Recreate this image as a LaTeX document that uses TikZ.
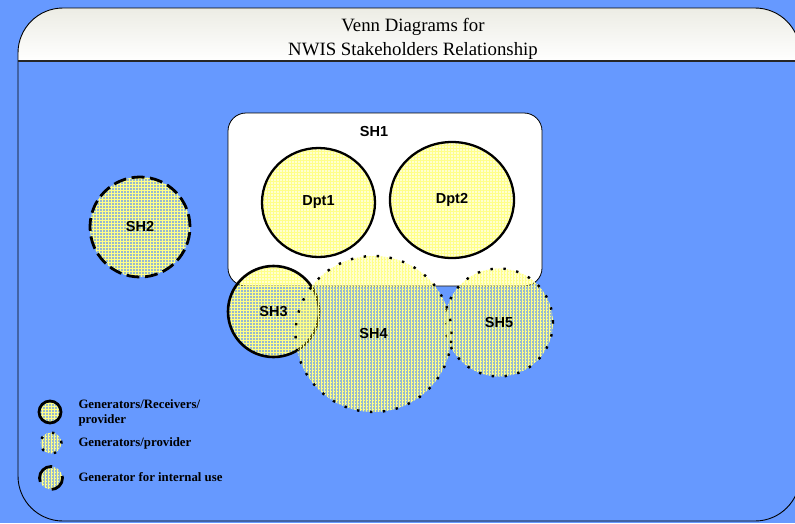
\documentclass[tikz,border=0pt]{standalone}
\usepackage{fontspec}
\setmainfont{Liberation Serif}
\newfontfamily\labelfont{Liberation Sans}
\usepackage{tikz}
\usetikzlibrary{shapes.geometric,patterns}

\definecolor{bgblue}{RGB}{102,153,255}
\definecolor{vennyellow}{RGB}{255,255,110}
\definecolor{gridyellow}{RGB}{255,255,150}
\definecolor{bandtop}{RGB}{236,236,228}

\pgfdeclarepatternformonly{venngrid}{\pgfqpoint{-1pt}{-1pt}}{\pgfqpoint{4pt}{4pt}}{\pgfqpoint{3pt}{3pt}}{
\pgfsetlinewidth{0.6pt}
\pgfpathmoveto{\pgfqpoint{0pt}{0pt}}\pgfpathlineto{\pgfqpoint{3.1pt}{0pt}}
\pgfpathmoveto{\pgfqpoint{0pt}{0pt}}\pgfpathlineto{\pgfqpoint{0pt}{3.1pt}}
\pgfusepath{stroke}}

\begin{document}
\begin{tikzpicture}[x=1pt,y=-1pt]
\tikzset{venn/.style = {shape=circle,draw,inner sep=0pt,fill=vennyellow,
fill opacity=0.32,text opacity=1,font=\labelfont\bfseries\fontsize{14.5}{16}\selectfont,
preaction={pattern=venngrid,pattern color=gridyellow,fill opacity=1}}}
\tikzset{dept/.style = {venn,shape=ellipse,line width=2.3pt}}
\tikzset{solidline/.style = {line width=2.6pt}}
\tikzset{dotline/.style = {line width=2.4pt,dash pattern=on 2.4pt off 10.6pt}}
\tikzset{dashline/.style = {line width=2.8pt,dash pattern=on 13pt off 5.5pt}}
\tikzset{keytext/.style = {anchor=west,align=left,font=\bfseries\fontsize{12.8}{15}\selectfont}}
\useasboundingbox (0,0) rectangle (795,523);
\fill[bgblue] (0,0) rectangle (795,523);
% frame
\begin{scope}
\clip[rounded corners=45] (18,8) rectangle (800,521);
\shade[top color=bandtop,bottom color=white] (18,8) rectangle (800,61);
\end{scope}
\draw[rounded corners=45,line width=0.9pt] (18,8) rectangle (800,521);
\draw[line width=1.6pt,black!85] (18,61) -- (800,61);
\node[anchor=base,font=\fontsize{18.8}{24}\selectfont] (title1) at (413,31) {Venn Diagrams for};
\node[anchor=base,font=\fontsize{18.8}{24}\selectfont] (title2) at (413,55) {NWIS Stakeholders Relationship};
% stakeholders
\node[draw,fill=white,rounded corners=18,minimum width=314pt,minimum height=173pt,line width=0.8pt] (sh1) at (385,199.5) {};
\node[font=\labelfont\bfseries\fontsize{14.5}{16}\selectfont] (sh1text) at (374,132) {SH1};
\node[dept,minimum width=113pt,minimum height=109pt] (dpt1) at (318.5,202.5) {Dpt1};
\node[dept,minimum width=124pt,minimum height=116pt] (dpt2) at (452,200) {Dpt2};
\node[venn,solidline,minimum size=91pt] (sh3) at (273.5,311.5) {SH3};
\node[venn,dotline,minimum size=108pt] (sh5) at (499,322.5) {SH5};
\node[venn,dotline,minimum size=156pt] (sh4) at (373.5,334) {SH4};
\node[venn,dashline,minimum size=100pt] (sh2) at (140,227) {SH2};
% legend
\node[venn,solidline,line width=2.8pt,minimum size=22pt] (key1) at (50,412) {};
\node[venn,dotline,minimum size=21pt] (key2) at (51,443) {};
\node[venn,line width=2.8pt,dash pattern=on 23pt off 14.7pt,dash phase=20.9pt,minimum size=23pt] (key3) at (51,478) {};
\node[keytext] (key1text) at (75,412.5) {Generators/Receivers/\\provider};
\node[keytext] (key2text) at (75,443) {Generators/provider};
\node[keytext] (key3text) at (75,477) {Generator for internal use};
\end{tikzpicture}
\end{document}
